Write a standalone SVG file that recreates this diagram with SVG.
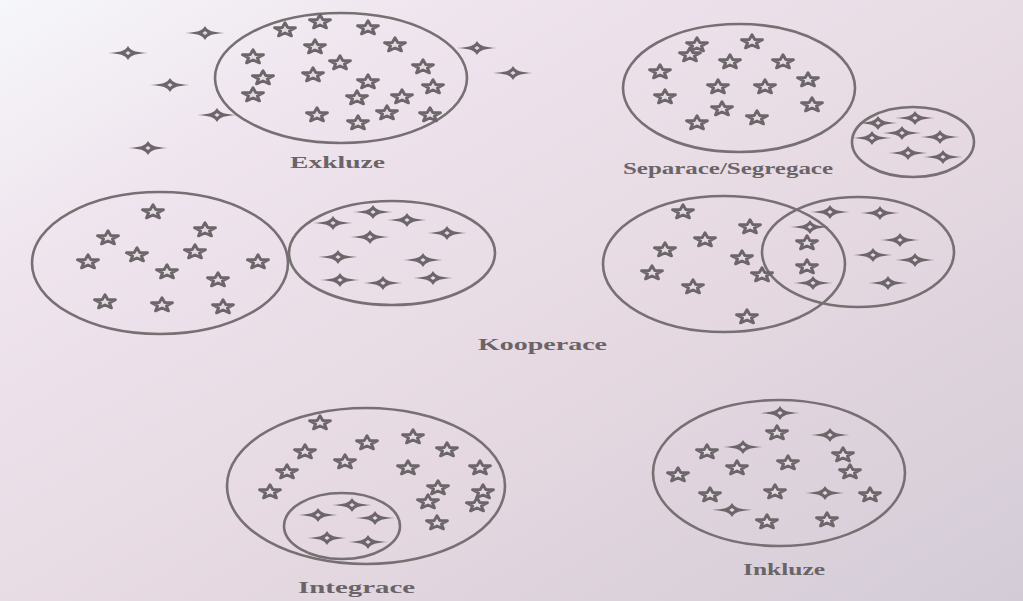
<svg xmlns="http://www.w3.org/2000/svg" xmlns:xlink="http://www.w3.org/1999/xlink" width="1023" height="601" viewBox="0 0 1023 601">
<style>
.ring{fill:none;stroke:#767073;stroke-width:2.6}
.lbl{font-family:"Liberation Serif","DejaVu Serif",serif;font-weight:bold;font-size:16px;fill:#6a6367}
</style>
<defs>
<linearGradient id="bg" x1="0" y1="0" x2="1" y2="1">
<stop offset="0" stop-color="#f6f7fa"/>
<stop offset="0.22" stop-color="#efe5ee"/>
<stop offset="0.6" stop-color="#e5d8e1"/>
<stop offset="1" stop-color="#d3ccd7"/>
</linearGradient>
<g id="st">
<path d="M0,-7.2 L2.72,-2.45 L10.46,-2.22 L4.39,0.94 L6.47,5.82 L0,3.02 L-6.47,5.82 L-4.39,0.94 L-10.46,-2.22 L-2.72,-2.45 Z" fill="#e4dae1" stroke="#6c6569" stroke-width="2.9" stroke-linejoin="round"/>
</g>
<g id="cr">
<path d="M-20,0 C-8,-1 -3,-1.6 0,-7 C3,-1.6 8,-1 20,0 C8,1 3,1.6 0,7 C-3,1.6 -8,1 -20,0 Z" fill="#6c6569"/>
<path d="M0,-2 L2.6,0 L0,2 L-2.6,0 Z" fill="#e3dae0"/>
</g>
</defs>
<rect width="1023" height="601" fill="url(#bg)"/>

<g id="exkluze">
<ellipse class="ring" cx="341" cy="78" rx="126" ry="65"/>
<use href="#st" x="285" y="30"/><use href="#st" x="320" y="22"/><use href="#st" x="368" y="28"/>
<use href="#st" x="315" y="47"/><use href="#st" x="395" y="45"/><use href="#st" x="253" y="57"/>
<use href="#st" x="340" y="63"/><use href="#st" x="423" y="67"/><use href="#st" x="263" y="78"/>
<use href="#st" x="313" y="75"/><use href="#st" x="368" y="82"/><use href="#st" x="433" y="87"/>
<use href="#st" x="253" y="95"/><use href="#st" x="357" y="98"/><use href="#st" x="402" y="97"/>
<use href="#st" x="317" y="115"/><use href="#st" x="358" y="123"/><use href="#st" x="387" y="113"/>
<use href="#st" x="430" y="115"/>
<use href="#cr" x="205" y="33"/><use href="#cr" x="128" y="53"/><use href="#cr" x="170" y="85"/>
<use href="#cr" x="217" y="115"/><use href="#cr" x="148" y="148"/><use href="#cr" x="477" y="48"/>
<use href="#cr" x="513" y="73"/>
<text class="lbl" x="290" y="168" textLength="95" lengthAdjust="spacingAndGlyphs">Exkluze</text>
</g>

<g id="separace">
<ellipse class="ring" cx="739" cy="88" rx="116" ry="64"/>
<ellipse class="ring" cx="913" cy="142" rx="61" ry="35"/>
<use href="#st" x="697" y="45"/><use href="#st" x="690" y="55"/><use href="#st" x="752" y="42"/>
<use href="#st" x="730" y="62"/><use href="#st" x="783" y="62"/><use href="#st" x="660" y="72"/>
<use href="#st" x="808" y="80"/><use href="#st" x="718" y="87"/><use href="#st" x="765" y="87"/>
<use href="#st" x="665" y="97"/><use href="#st" x="812" y="105"/><use href="#st" x="722" y="109"/>
<use href="#st" x="757" y="118"/><use href="#st" x="697" y="123"/>
<use href="#cr" x="878" y="123"/><use href="#cr" x="915" y="118"/><use href="#cr" x="902" y="133"/>
<use href="#cr" x="940" y="137"/><use href="#cr" x="872" y="138"/><use href="#cr" x="908" y="153"/>
<use href="#cr" x="943" y="157"/>
<text class="lbl" x="623" y="174" textLength="210" lengthAdjust="spacingAndGlyphs">Separace/Segregace</text>
</g>

<g id="kooperace-a">
<ellipse class="ring" cx="160" cy="263" rx="128" ry="71"/>
<ellipse class="ring" cx="392" cy="253" rx="103" ry="52"/>
<use href="#st" x="153" y="212"/><use href="#st" x="205" y="230"/><use href="#st" x="108" y="238"/>
<use href="#st" x="137" y="255"/><use href="#st" x="195" y="252"/><use href="#st" x="88" y="262"/>
<use href="#st" x="258" y="262"/><use href="#st" x="167" y="272"/><use href="#st" x="218" y="280"/>
<use href="#st" x="105" y="302"/><use href="#st" x="162" y="305"/><use href="#st" x="223" y="307"/>
<use href="#cr" x="373" y="212"/><use href="#cr" x="333" y="223"/><use href="#cr" x="407" y="220"/>
<use href="#cr" x="370" y="237"/><use href="#cr" x="447" y="233"/><use href="#cr" x="338" y="257"/>
<use href="#cr" x="423" y="260"/><use href="#cr" x="340" y="280"/><use href="#cr" x="383" y="283"/>
<use href="#cr" x="433" y="278"/>
</g>

<g id="kooperace-b">
<ellipse class="ring" cx="724" cy="264" rx="121" ry="68"/>
<ellipse class="ring" cx="858" cy="252" rx="96" ry="55"/>
<use href="#st" x="683" y="212"/><use href="#st" x="750" y="227"/><use href="#st" x="705" y="240"/>
<use href="#st" x="665" y="250"/><use href="#st" x="742" y="258"/><use href="#st" x="652" y="273"/>
<use href="#st" x="693" y="287"/><use href="#st" x="762" y="275"/><use href="#st" x="807" y="243"/>
<use href="#st" x="807" y="267"/><use href="#st" x="747" y="317"/>
<use href="#cr" x="830" y="212"/><use href="#cr" x="880" y="213"/><use href="#cr" x="810" y="227"/>
<use href="#cr" x="900" y="240"/><use href="#cr" x="873" y="255"/><use href="#cr" x="915" y="260"/>
<use href="#cr" x="813" y="283"/><use href="#cr" x="888" y="283"/>
</g>

<g id="kooperace-label">
<text class="lbl" x="478" y="350" textLength="129" lengthAdjust="spacingAndGlyphs">Kooperace</text>
</g>

<g id="integrace">
<ellipse class="ring" cx="366" cy="486" rx="139" ry="78"/>
<ellipse class="ring" cx="342" cy="526" rx="58" ry="33"/>
<use href="#st" x="320" y="423"/><use href="#st" x="413" y="437"/><use href="#st" x="367" y="443"/>
<use href="#st" x="305" y="452"/><use href="#st" x="447" y="450"/><use href="#st" x="345" y="462"/>
<use href="#st" x="408" y="468"/><use href="#st" x="287" y="472"/><use href="#st" x="480" y="468"/>
<use href="#st" x="270" y="492"/><use href="#st" x="438" y="488"/><use href="#st" x="483" y="492"/>
<use href="#st" x="428" y="502"/><use href="#st" x="477" y="505"/><use href="#st" x="437" y="523"/>
<use href="#cr" x="352" y="505"/><use href="#cr" x="318" y="515"/><use href="#cr" x="375" y="518"/>
<use href="#cr" x="327" y="538"/><use href="#cr" x="368" y="542"/>
<text class="lbl" x="298" y="593" textLength="117" lengthAdjust="spacingAndGlyphs">Integrace</text>
</g>

<g id="inkluze">
<ellipse class="ring" cx="779" cy="473" rx="126" ry="73"/>
<use href="#st" x="777" y="433"/><use href="#st" x="707" y="452"/><use href="#st" x="843" y="455"/>
<use href="#st" x="737" y="468"/><use href="#st" x="788" y="463"/><use href="#st" x="850" y="472"/>
<use href="#st" x="678" y="475"/><use href="#st" x="710" y="495"/><use href="#st" x="775" y="492"/>
<use href="#st" x="870" y="495"/><use href="#st" x="767" y="522"/><use href="#st" x="827" y="520"/>
<use href="#cr" x="780" y="413"/><use href="#cr" x="743" y="447"/><use href="#cr" x="830" y="435"/>
<use href="#cr" x="825" y="493"/><use href="#cr" x="732" y="510"/>
<text class="lbl" x="743" y="575" textLength="82" lengthAdjust="spacingAndGlyphs">Inkluze</text>
</g>
<g id="connectors"/>
</svg>
